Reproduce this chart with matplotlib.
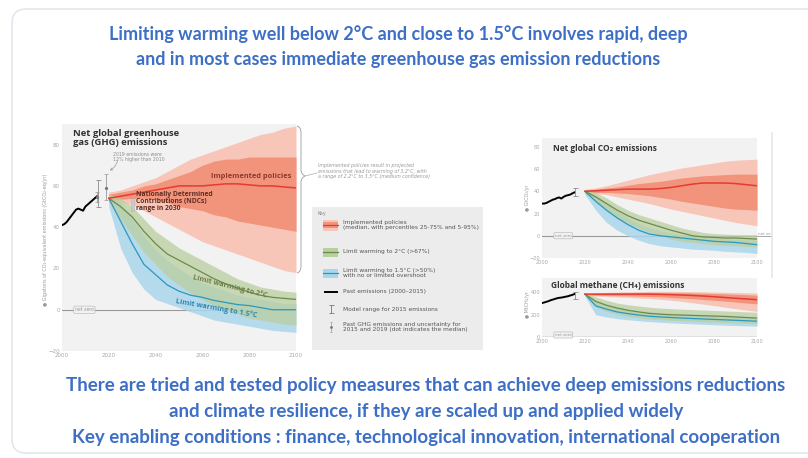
import numpy as np
import matplotlib
matplotlib.use("Agg")
import matplotlib.pyplot as plt
from matplotlib.patches import FancyBboxPatch, Rectangle, PathPatch
from matplotlib.path import Path

# ---- data ----
years_hist = list(range(2000, 2016))
years_proj = list(range(2020, 2101, 5))

# Net global GHG emissions (GtCO2-eq/yr)
ghg_hist = [41, 41.5, 42.5, 44, 45.5, 47, 48.5, 49, 48.5, 48, 50, 51, 52, 53, 54, 55]
ghg_pol_med = [54, 55, 56, 57, 58, 59, 60, 60, 60, 60.5, 61, 61, 60.5, 60, 60, 59.5, 59]
ghg_pol_p25 = [53, 53.5, 54, 54, 53.5, 52, 50, 49, 48, 46, 45, 43, 42, 41, 40, 39, 38]
ghg_pol_p75 = [56, 57, 58, 60, 61, 63, 65, 67, 70, 72, 73, 73, 74, 74, 74, 74, 74]
ghg_pol_p05 = [53, 52, 51, 48, 45, 42, 39, 36, 33, 31, 29, 27, 25, 23, 21, 19, 18]
ghg_pol_p95 = [57, 58, 60, 62, 64, 67, 70, 73, 75, 77, 79, 81, 83, 85, 86, 88, 89]
ghg_2c_med = [54, 50, 45, 38, 32, 27, 24, 21, 18, 15, 12.5, 10.5, 8.5, 7, 6, 5.5, 5]
ghg_2c_lo = [52, 44, 36, 28, 22, 16, 12, 8, 5, 2, 0, -2, -4, -5, -6, -7, -7.5]
ghg_2c_hi = [56, 54, 50, 44, 38, 34, 30, 27, 24, 21, 18, 15, 13, 11, 10, 9, 8.5]
ghg_15_med = [54, 43, 32, 22, 17, 12, 9, 7, 6, 4.5, 3.5, 2.5, 2, 1, 0, 0, 0]
ghg_15_lo = [50, 30, 18, 10, 5, 3, 1, -1, -3, -5, -6, -7, -8, -9, -10, -10.5, -11]
ghg_15_hi = [55, 52, 44, 36, 29, 24, 20, 16, 13, 11, 9, 7, 6, 5, 4, 3, 3]
ghg_model_2015 = [50, 63]
ghg_obs_years = [2015, 2019]
ghg_obs_med = [54.5, 59]
ghg_obs_lo = [52, 53]
ghg_obs_hi = [57, 66]
ghg_ndc_2030 = [48, 54]

# Net global CO2 emissions (GtCO2/yr)
co2_hist = [29, 29, 29.5, 30.5, 31.5, 32.5, 33, 34, 34.5, 33.5, 35, 36, 36.5, 37, 38, 39]
co2_pol_med = [40, 40.5, 41, 41.5, 42, 42, 42, 42.5, 43.5, 45, 46.5, 47.5, 47.5, 47.5, 47, 46, 45]
co2_pol_p25 = [39, 39, 39, 38.5, 38, 37, 36, 34.5, 33, 31, 29.5, 28, 26.5, 25, 24, 23.5, 23]
co2_pol_p75 = [41, 42, 43, 44, 45.5, 47, 48, 49, 50.5, 52, 53, 54, 54.5, 55, 55.5, 55.5, 55.5]
co2_pol_p05 = [38, 38, 37, 35, 33, 31, 29, 26.5, 24, 22, 20, 18, 16, 14, 12, 10.5, 9]
co2_pol_p95 = [42, 43, 45, 47.5, 50, 52.5, 55, 57, 59, 61, 62.5, 64, 65.5, 67, 68, 68.5, 69]
co2_2c_med = [40, 35, 29, 23, 18, 14, 11, 8, 5, 2.5, 0, -1, -1.5, -2, -2, -2.5, -3]
co2_2c_lo = [38, 31, 23, 16, 11, 7, 3, 0, -3, -5, -6, -7, -8, -8.5, -9, -9.5, -10]
co2_2c_hi = [41, 39, 34, 28, 23, 19, 16, 13, 10, 7, 5, 3, 2, 1.5, 1, 1, 1]
co2_15_med = [40, 31, 23, 16, 10, 5, 1.5, 0, -1, -2, -3, -4, -5, -5.5, -6, -7, -8]
co2_15_lo = [37, 23, 12, 5, 0, -4, -7, -9, -10, -11, -12, -12.5, -13, -14, -14.5, -15, -16]
co2_15_hi = [41, 36, 29, 22, 16, 11, 7, 4.5, 2.5, 1, 0, -1, -2, -2.5, -3, -3.5, -4]
co2_model_2015 = [36, 43]

# Global methane emissions (MtCH4/yr)
ch4_hist = [305, 310, 316, 322, 330, 336, 342, 348, 352, 354, 358, 362, 366, 372, 378, 385]
ch4_pol_med = [385, 385, 385, 385, 385, 385, 385, 383, 380, 377, 373, 368, 362, 355, 348, 342, 335]
ch4_pol_p25 = [378, 376, 374, 372, 370, 367, 364, 360, 355, 350, 344, 337, 330, 322, 314, 305, 298]
ch4_pol_p75 = [390, 392, 394, 396, 398, 399, 400, 400, 400, 398, 396, 394, 391, 388, 384, 380, 375]
ch4_pol_p05 = [372, 368, 364, 360, 356, 350, 345, 338, 330, 320, 308, 295, 282, 268, 255, 242, 230]
ch4_pol_p95 = [395, 398, 401, 404, 406, 408, 410, 410, 410, 409, 408, 406, 404, 402, 400, 398, 395]
ch4_2c_med = [385, 320, 285, 260, 240, 225, 212, 205, 200, 197, 194, 191, 188, 185, 180, 175, 170]
ch4_2c_lo = [370, 270, 230, 205, 185, 172, 162, 155, 150, 146, 142, 138, 134, 130, 127, 124, 120]
ch4_2c_hi = [395, 360, 330, 305, 290, 278, 268, 260, 255, 250, 246, 242, 238, 234, 230, 226, 222]
ch4_15_med = [385, 280, 250, 225, 210, 197, 186, 180, 175, 170, 166, 162, 158, 154, 150, 146, 142]
ch4_15_lo = [365, 200, 180, 165, 155, 146, 138, 132, 127, 122, 118, 114, 110, 106, 103, 100, 98]
ch4_15_hi = [395, 330, 290, 265, 250, 238, 228, 220, 214, 208, 203, 198, 194, 190, 186, 183, 180]
ch4_model_2015 = [340, 400]

heading = ["Limiting warming well below 2°C and close to 1.5°C involves rapid, deep",
           "and in most cases immediate greenhouse gas emission reductions"]
footer = ["There are tried and tested policy measures that can achieve deep emissions reductions",
          "and climate resilience, if they are scaled up and applied widely",
          "Key enabling conditions : finance, technological innovation, international cooperation"]

# ---- colours ----
RED_L, RED_D, RED_LINE = "#f7c6b8", "#f2937c", "#e53b32"
GRN_B, GRN_LINE = "#b9cf9f", "#6c8a4c"
BLU_B, BLU_LINE = "#a9d6ec", "#2b98bd"
BLUE_TXT = "#3d6fc6"
TICK = "#a8a8a8"
PANEL = "#f2f2f2"
BOLD_FONT = ["Open Sans", "DejaVu Sans"]

W, H = 808, 458
fig = plt.figure(figsize=(W / 100, H / 100), dpi=100)
fig.patch.set_facecolor("white")

# pixel-space background layer
bg = fig.add_axes([0, 0, 1, 1], zorder=0)
bg.set_xlim(0, W)
bg.set_ylim(H, 0)
bg.axis("off")
bg.add_patch(FancyBboxPatch((12, 9), 830, 444, boxstyle="round,pad=0,rounding_size=14",
                            fc="white", ec="#dde3ea", lw=1.0))


def px_axes(x0, y0, x1, y1, **kw):
    # axes placed with pixel corners (top-left origin)
    return fig.add_axes([x0 / W, 1 - y1 / H, (x1 - x0) / W, (y1 - y0) / H], **kw)


def draw_panel(ax, hist, med, p25, p75, p05, p95, c2m, c2lo, c2hi, c15m, c15lo, c15hi, model, fs):
    ax.set_facecolor(PANEL)
    ax.fill_between(years_proj, p05, p95, color=RED_L, lw=0, zorder=2)
    ax.fill_between(years_proj, p25, p75, color=RED_D, lw=0, zorder=3)
    ax.fill_between(years_proj, c15lo, c15hi, color=BLU_B, lw=0, alpha=0.85, zorder=2)
    ax.fill_between(years_proj, c2lo, c2hi, color=GRN_B, lw=0, alpha=0.75, zorder=3)
    ax.plot(years_proj, c15m, color=BLU_LINE, lw=0.9, zorder=4)
    ax.plot(years_proj, c2m, color=GRN_LINE, lw=0.9, zorder=4)
    ax.plot(years_proj, med, color=RED_LINE, lw=1.1, zorder=5)
    ax.plot(years_hist, hist, color="black", lw=1.4, zorder=5)
    ax.errorbar([2015.5], [np.mean(model)], yerr=[[np.mean(model) - model[0]], [model[1] - np.mean(model)]],
                fmt="none", ecolor="#8c8c8c", elinewidth=0.6, capsize=1.8, capthick=0.6, zorder=6)
    for s in ax.spines.values():
        s.set_visible(False)
    ax.tick_params(length=0, labelsize=fs, labelcolor=TICK, pad=1.5)
    ax.set_xlim(2000, 2100)
    ax.set_xticks(range(2000, 2101, 20))


# ---- main GHG chart ----
ax1 = px_axes(62, 124, 296, 351, zorder=1)
draw_panel(ax1, ghg_hist, ghg_pol_med, ghg_pol_p25, ghg_pol_p75, ghg_pol_p05, ghg_pol_p95,
           ghg_2c_med, ghg_2c_lo, ghg_2c_hi, ghg_15_med, ghg_15_lo, ghg_15_hi, ghg_model_2015, 4)
ax1.set_ylim(-20, 90)
ax1.set_yticks(range(-20, 81, 20))
ax1.axhline(0, color="#9a9a9a", lw=0.8, zorder=1)
ax1.text(2005.5, 0, "net zero", fontsize=3.3, color="#999999", va="center", zorder=6,
         bbox=dict(boxstyle="round,pad=0.25", fc=PANEL, ec="#b0b0b0", lw=0.4))
ax1.errorbar(ghg_obs_years, ghg_obs_med,
             yerr=[np.subtract(ghg_obs_med, ghg_obs_lo), np.subtract(ghg_obs_hi, ghg_obs_med)],
             fmt="o", ms=1.3, color="#777777", ecolor="#9a9a9a", elinewidth=0.6, ls="none",
             capsize=1.2, capthick=0.5, zorder=6)
ax1.add_patch(Rectangle((2029.3, ghg_ndc_2030[0]), 1.4, ghg_ndc_2030[1] - ghg_ndc_2030[0],
                        fc="#c9c9c9", ec="#999999", lw=0.4, ls=(0, (1, 1)), zorder=6))
ax1.text(2004.5, 87.5, "Net global greenhouse\ngas (GHG) emissions", fontsize=6.8,
         fontweight="bold", color="#333333", va="top", linespacing=1.0,
         family=BOLD_FONT, zorder=7)
ax1.text(2022, 76.5, "2019 emissions were\n12% higher than 2010", fontsize=3.3,
         color="#8d8d8d", va="top", linespacing=1.0, zorder=7)
ax1.annotate("", xy=(2019.3, 67), xytext=(2024, 73.5),
             arrowprops=dict(arrowstyle="->", color="#9a9a9a", lw=0.5,
                             connectionstyle="arc3,rad=-0.3", mutation_scale=4), zorder=7)
ax1.text(2098, 63, "Implemented policies", fontsize=5.3, fontweight="bold", color="#8b3a2b",
         ha="right", va="bottom", family=BOLD_FONT, zorder=7)
ax1.text(2031.5, 57.5, "Nationally Determined\nContributions (NDCs)\nrange in 2030", fontsize=4.9,
         fontweight="bold", color="#5e2e22", va="top", linespacing=1.0,
         family=BOLD_FONT, zorder=7)
ax1.text(2072, 11.5, "Limit warming to 2°C", fontsize=5.2, fontweight="bold", color="#6b7d47",
         rotation=-14, ha="center", va="center", family=BOLD_FONT, zorder=7)
ax1.text(2066, 0.5, "Limit warming to 1.5°C", fontsize=5.2, fontweight="bold", color="#2d86b2",
         rotation=-10, ha="center", va="center", family=BOLD_FONT, zorder=7)
bg.text(46, 240, "● Gigatons of CO₂-equivalent emissions (GtCO₂-eq/yr)", fontsize=3.5,
        color="#9a9a9a", rotation=90, ha="center", va="center")

# brace + note for implemented policies
brace = Path([(297, 126), (301, 127), (301, 133), (301, 170), (301, 174), (305, 176),
              (301, 178), (301, 182), (301, 266), (301, 272), (297, 273)],
             [Path.MOVETO, Path.CURVE3, Path.CURVE3, Path.LINETO, Path.CURVE3, Path.CURVE3,
              Path.CURVE3, Path.CURVE3, Path.LINETO, Path.CURVE3, Path.CURVE3])
bg.add_patch(PathPatch(brace, fc="none", ec="#9a9a9a", lw=0.6, zorder=2))
bg.plot([305, 317], [176, 173], color="#aaaaaa", lw=0.5, zorder=2)
bg.text(318, 171, "Implemented policies result in projected\nemissions that lead to warming of 3.2°C, with\n"
        "a range of 2.2°C to 3.5°C (medium confidence)", fontsize=3.4, color="#999999",
        style="italic", va="center", linespacing=1.15, zorder=2)

# ---- key box ----
bg.add_patch(Rectangle((312, 207), 171, 143, fc="#ececec", ec="none", zorder=1))
kt = dict(fontsize=4.2, color="#555555", va="center", linespacing=1.15, zorder=3)
bg.text(317, 213, "Key", fontsize=3.4, color="#888888", va="center", zorder=3)
bg.add_patch(Rectangle((323, 219.5), 15, 11, fc=RED_L, ec="none", zorder=2))
bg.add_patch(Rectangle((323, 222), 15, 6, fc=RED_D, ec="none", zorder=2))
bg.plot([323, 338], [225, 225], color=RED_LINE, lw=0.9, zorder=3)
bg.text(343, 225, "Implemented policies\n(median, with percentiles 25-75% and 5-95%)", **kt)
bg.add_patch(Rectangle((323, 247.5), 15, 9, fc=GRN_B, ec="none", zorder=2))
bg.plot([323, 338], [252, 252], color=GRN_LINE, lw=0.9, zorder=3)
bg.text(343, 252, "Limit warming to 2°C (>67%)", **kt)
bg.add_patch(Rectangle((323, 268.5), 15, 9, fc=BLU_B, ec="none", zorder=2))
bg.plot([323, 338], [273, 273], color=BLU_LINE, lw=0.9, zorder=3)
bg.text(343, 273, "Limit warming to 1.5°C (>50%)\nwith no or limited overshoot", **kt)
bg.plot([325, 337], [292, 292], color="black", lw=1.4, zorder=3)
bg.text(343, 292, "Past emissions (2000–2015)", **kt)
bg.errorbar([331], [309], yerr=[4], fmt="none", ecolor="#777777", elinewidth=0.6,
            capsize=1.8, capthick=0.6, zorder=3)
bg.text(343, 309, "Model range for 2015 emissions", **kt)
bg.errorbar([331], [327], yerr=[5], fmt="o", ms=1.0, color="#777777", ecolor="#9a9a9a",
            elinewidth=0.5, capsize=1.0, capthick=0.5, zorder=3)
bg.text(343, 327, "Past GHG emissions and uncertainty for\n2015 and 2019 (dot indicates the median)", **kt)

# ---- CO2 chart ----
ax2 = px_axes(542, 138, 757, 258, zorder=1)
draw_panel(ax2, co2_hist, co2_pol_med, co2_pol_p25, co2_pol_p75, co2_pol_p05, co2_pol_p95,
           co2_2c_med, co2_2c_lo, co2_2c_hi, co2_15_med, co2_15_lo, co2_15_hi, co2_model_2015, 3.6)
ax2.set_ylim(-20, 88)
ax2.set_yticks(range(-20, 81, 20))
ax2.axhline(0, color="#9a9a9a", lw=0.8, zorder=1)
ax2.text(2006, 0, "net zero", fontsize=3.0, color="#999999", va="center", zorder=6,
         bbox=dict(boxstyle="round,pad=0.25", fc=PANEL, ec="#b0b0b0", lw=0.4))
ax2.text(2005, 83, "Net global CO₂ emissions", fontsize=6.0, fontweight="bold",
         color="#333333", va="top", family=BOLD_FONT, zorder=7)
bg.text(528, 198, "● GtCO₂/yr", fontsize=3.4, color="#9a9a9a", rotation=90,
        ha="center", va="center")
bg.plot([757, 772], [236, 236], color="#9a9a9a", lw=0.6, zorder=1)
bg.text(758, 234, "net ze", fontsize=3.0, color="#999999", va="center", zorder=2)
bg.plot([772, 772], [133, 277], color="#e6e6e6", lw=1.2, zorder=1)

# ---- methane chart ----
ax3 = px_axes(542, 278, 757, 337, zorder=1)
draw_panel(ax3, ch4_hist, ch4_pol_med, ch4_pol_p25, ch4_pol_p75, ch4_pol_p05, ch4_pol_p95,
           ch4_2c_med, ch4_2c_lo, ch4_2c_hi, ch4_15_med, ch4_15_lo, ch4_15_hi, ch4_model_2015, 3.6)
ax3.set_ylim(0, 530)
ax3.set_yticks([0, 200, 400])
ax3.axhline(0, color="#9a9a9a", lw=1.0, zorder=1)
ax3.text(2006, 18, "net zero", fontsize=3.0, color="#999999", va="center", zorder=6,
         bbox=dict(boxstyle="round,pad=0.25", fc=PANEL, ec="#b0b0b0", lw=0.4))
ax3.text(2004, 505, "Global methane (CH₄) emissions", fontsize=6.0, fontweight="bold",
         color="#333333", va="top", family=BOLD_FONT, zorder=7)
bg.text(528, 305, "● MtCH₄/yr", fontsize=3.4, color="#9a9a9a", rotation=90,
        ha="center", va="center")

# ---- slide text ----
hf = dict(color=BLUE_TXT, fontweight="bold", ha="center", va="center",
          family=["Lato", "DejaVu Sans"])
bg.text(398, 34, heading[0], fontsize=13, **hf)
bg.text(398, 60, heading[1], fontsize=13, **hf)
bg.text(426, 386, footer[0], fontsize=13.5, **hf)
bg.text(426, 411, footer[1], fontsize=13.5, **hf)
bg.text(426, 437, footer[2], fontsize=13.5, **hf)

fig.savefig("out.png", dpi=100)
